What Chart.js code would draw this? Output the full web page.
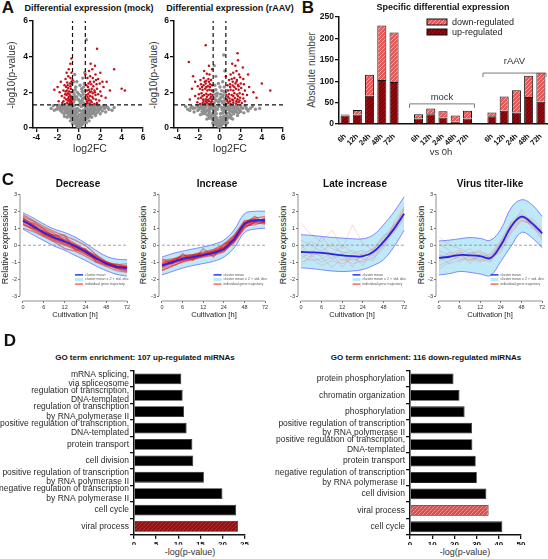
<!DOCTYPE html>
<html>
<head>
<meta charset="utf-8">
<script src="https://cdn.jsdelivr.net/npm/chart.js@4.4.0/dist/chart.umd.min.js"></script>
<style>
  body { margin: 0; width: 548px; height: 559px; position: relative; background: #fff; overflow: hidden; }
</style>
</head>
<body>
<script>
// ---------- data: panel A (volcano plots, [log2FC, -log10 p]) ----------
const fcCut = 0.6;
const pCut = 1.3;
const volcanoXTicks = [-4, -2, 0, 2, 4, 6];
const volcanoYTicks = [0, 2, 4, 6];

const mockGray = [[0,0.05],[0.1,0.1],[-0.1,0.08],[0.2,0.15],[-0.2,0.12],[0.3,0.2],[0.05,0.25],[-0.3,0.22],[0.4,0.3],[0.15,0.35],
  [-0.15,0.3],[0.5,0.35],[-0.4,0.35],[0.25,0.45],[-0.05,0.4],[0.6,0.45],[-0.55,0.45],[0.35,0.55],[-0.25,0.5],[0.75,0.55],
  [-0.7,0.55],[0.9,0.6],[-0.85,0.65],[0.5,0.65],[-0.45,0.62],[1.05,0.7],[-1.0,0.75],[0.65,0.75],[-0.6,0.78],[1.2,0.8],
  [-1.15,0.85],[0.8,0.85],[-0.3,0.8],[0.1,0.7],[1.4,0.9],[-1.3,0.95],[0.95,0.95],[-0.8,0.95],[1.6,1.0],[-1.5,1.05],
  [1.1,1.05],[-1.0,1.1],[0.4,1.0],[-0.5,1.0],[1.8,1.1],[-1.7,1.15],[1.3,1.15],[-1.25,1.2],[2.1,1.15],[-2.0,1.2],
  [1.5,1.25],[0.7,1.15],[-0.7,1.2],[2.4,1.1],[-2.3,1.0],[2.8,1.05],[3.1,1.0],[-2.6,1.1],[2.6,1.2],[1.9,1.25],
  [-1.85,1.28],[0.2,1.2],[-0.15,1.1],[0.55,0.9],[-0.35,0.95],[1.0,0.85],[-0.95,0.9],[1.35,1.0],[-1.4,0.8],[0.85,1.25],
  [-0.9,1.25],[1.7,0.85],[-1.6,0.9],[2.2,0.95],[-2.1,1.05],[1.2,0.6],[-1.1,0.6],[0.3,0.6],[-0.1,0.55],[2.0,0.8],
  [1.55,0.7],[-1.35,0.65],[2.5,0.9],[0.95,0.4],[-0.8,0.4],[0.7,0.3],[-0.6,0.25],
  [0.05,0.15],[-0.05,0.2],[0.15,0.22],[0.25,0.3],[-0.2,0.35],[0.0,0.35],[0.45,0.42],[-0.35,0.45],[0.1,0.48],[0.55,0.55],
  [-0.5,0.55],[0.2,0.58],[-0.15,0.62],[0.65,0.62],[0.4,0.68],[-0.3,0.68],[-0.6,0.68],[0.85,0.7],[0.0,0.75],[0.25,0.78],
  [-0.5,0.82],[-0.75,0.8],[0.5,0.82],[1.0,0.78],[-0.9,0.78],[0.7,0.9],[-0.15,0.9],[0.15,0.95],[1.15,0.9],[-1.1,0.95],
  [-0.6,0.92],[0.4,0.95],[0.9,1.05],[-0.7,1.05],[1.25,1.1],[-1.2,1.05],[0.6,1.1],[-0.3,1.05],[0.05,1.0],[1.5,1.1],
  [-1.45,1.15],[1.05,1.2],[-1.05,1.25],[0.35,1.25],[-0.45,1.25],[1.75,1.2],[-1.6,1.25],[2.3,1.25],[-2.4,1.25],[1.35,1.28],
  [0.6,1.28],[-0.6,1.1],[0.0,1.3],[1.65,1.3],[-1.3,1.1],[0.8,1.0],[-0.85,1.05],[2.0,1.05],[-1.9,1.1],[1.45,0.8],
  [-1.25,0.9],[0.3,0.8],[1.85,0.95],[-1.75,1.0],[2.7,1.15],[3.3,1.15],
  [0.45,1.4],[-0.5,1.45],[0.3,1.55],[-0.35,1.6],[0.5,1.7],[-0.2,1.75],[0.1,1.5],[0.4,1.9],[-0.45,1.9],[0.55,2.1],
  [-0.55,2.05],[0.25,2.2],[-0.3,2.3],[0.5,2.5],[-0.5,2.6],[0.35,2.8],[-0.4,3.0],[0.55,3.1],[0.45,2.3],[-0.15,2.0],
  [0.2,1.8],[-0.55,1.7],[0.7,4.95],[0.15,1.4],[-0.05,1.6],[0.35,1.65],[-0.4,1.75],[0.0,1.9],[0.3,2.05],[-0.35,2.15],
  [0.1,2.4],[-0.2,2.6]];

const mockRed = [[-0.65,1.35],[-0.75,1.4],[-0.9,1.38],[-1.1,1.42],[-1.3,1.35],[-0.7,1.55],[-0.85,1.6],[-1.0,1.55],[-1.2,1.6],[-1.45,1.5],
  [-0.65,1.75],[-0.8,1.8],[-0.95,1.75],[-1.15,1.85],[-1.35,1.7],[-0.7,2.0],[-0.9,2.05],[-1.05,1.95],[-1.25,2.05],[-1.6,1.8],
  [-0.75,2.2],[-1.0,2.25],[-1.2,2.3],[-1.45,2.1],[-0.65,2.45],[-0.85,2.5],[-1.1,2.55],[-1.35,2.4],[-1.8,2.0],[-0.8,2.8],
  [-1.0,2.9],[-1.25,2.75],[-0.7,3.1],[-0.95,3.3],[-1.15,3.1],[-0.8,3.6],[-0.7,3.9],[-1.7,2.6],[-2.0,2.3],[-2.3,2.15],
  [-1.55,1.4],[-1.9,1.5],[-0.6,1.6],[-0.6,2.7],[-0.7,1.45],[-0.85,1.5],[-1.0,1.65],[-0.75,1.7],[-0.9,1.9],[-1.1,2.1],
  [-0.8,2.35],[-1.3,1.9],[-0.7,2.6],[-1.05,2.4],
  [0.65,1.35],[0.8,1.4],[1.0,1.38],[1.2,1.45],[1.45,1.35],[1.7,1.4],[0.7,1.6],[0.9,1.65],[1.1,1.55],[1.35,1.65],
  [1.6,1.6],[1.9,1.55],[0.65,1.85],[0.85,1.9],[1.05,1.8],[1.3,1.95],[1.55,1.85],[1.8,1.9],[2.1,1.8],[0.75,2.1],
  [0.95,2.15],[1.2,2.2],[1.45,2.1],[1.7,2.2],[2.0,2.05],[0.7,2.4],[0.9,2.5],[1.15,2.45],[1.4,2.6],[1.65,2.45],
  [1.95,2.5],[2.3,2.3],[0.8,2.8],[1.05,2.9],[1.3,2.8],[1.55,3.0],[1.8,2.75],[0.95,3.2],[1.25,3.3],[1.5,3.5],
  [2.0,3.1],[1.7,4.45],[2.6,2.6],[3.3,3.3],[4.0,2.2],[4.3,2.1],[2.5,1.7],[2.9,2.1],[0.6,3.0],[1.1,3.6],
  [0.75,1.5],[0.95,1.55],[0.8,1.75],[1.0,2.0],[1.25,1.75],[1.15,2.05],[0.85,2.3],[1.35,2.35],[1.5,2.0],[1.05,2.6],
  [1.6,2.7],[2.2,2.6]];

const raavGray = [[0,0.05],[0.1,0.1],[-0.1,0.1],[0.2,0.18],[-0.25,0.15],[0.35,0.25],[-0.35,0.28],[0.05,0.3],[0.5,0.35],[-0.5,0.38],
  [0.25,0.42],[-0.2,0.45],[0.7,0.48],[-0.7,0.5],[0.45,0.55],[-0.45,0.58],[0.9,0.6],[-0.95,0.62],[0.1,0.6],[1.1,0.7],
  [-1.15,0.72],[0.65,0.72],[-0.7,0.75],[1.35,0.8],[-1.4,0.82],[0.9,0.85],[-0.95,0.88],[0.3,0.85],[-0.3,0.8],[1.6,0.9],
  [-1.65,0.92],[1.15,0.95],[-1.2,1.0],[0.55,1.0],[-0.55,1.02],[1.9,1.0],[-1.95,1.05],[1.4,1.08],[-1.5,1.12],[2.2,1.1],
  [-2.3,1.12],[1.7,1.15],[-1.75,1.18],[0.8,1.15],[-0.85,1.2],[2.5,1.15],[-2.6,1.2],[2.9,1.1],[-3.0,1.05],[3.4,1.05],
  [2.0,1.25],[-2.1,1.27],[1.2,1.25],[-1.25,1.28],[0.2,1.15],[-0.1,1.2],[0.75,0.3],[-0.65,0.28],[1.25,0.5],[-1.2,0.5],
  [1.7,0.7],[-1.8,0.75],[2.3,0.85],[-2.4,0.9],[2.7,0.95],[-2.8,0.98],[3.8,1.1],[0.4,1.1],[-0.4,1.15],[1.0,1.1],
  [-1.0,1.15],[1.5,1.2],[-1.55,1.0],
  [0.05,0.15],[-0.05,0.2],[0.15,0.25],[-0.15,0.28],[0.3,0.35],[-0.35,0.4],[0.0,0.42],[0.55,0.45],[-0.55,0.48],[0.2,0.52],
  [-0.25,0.58],[0.75,0.62],[-0.8,0.65],[0.4,0.68],[-0.45,0.7],[1.0,0.75],[-1.0,0.78],[0.1,0.8],[0.65,0.82],[-0.6,0.85],
  [1.25,0.88],[-1.3,0.9],[0.45,0.92],[-0.4,0.95],[0.95,0.98],[-1.05,1.0],[1.5,1.0],[-1.55,1.05],[0.25,1.02],[-0.2,1.05],
  [0.7,1.05],[-0.7,1.1],[1.25,1.12],[-1.35,1.15],[1.75,1.08],[-1.85,1.1],[2.05,1.15],[-2.0,1.2],[0.5,1.2],[-0.5,1.25],
  [1.0,1.25],[-1.0,1.28],[1.6,1.28],[-1.65,1.28],[2.4,1.25],[-2.5,1.1],[2.6,1.05],[-2.7,1.15],[3.1,1.2],[-3.2,1.2],
  [0.0,1.28],[0.85,1.2],[-0.9,1.05],[1.4,0.95],[-1.45,0.95],[2.0,0.92],[-2.05,0.98],[1.8,0.85],[-1.55,0.8],[1.1,0.55],
  [-1.0,0.55],[0.6,0.2],[-0.5,0.2],
  [0.45,1.4],[-0.5,1.42],[0.2,1.5],[-0.3,1.55],[0.5,1.65],[-0.5,1.7],[0.1,1.7],[0.35,1.85],[-0.4,1.9],[0.55,2.0],
  [-0.55,2.1],[0.2,2.1],[-0.2,1.95],[0.45,2.3],[-0.45,2.4],[0.3,2.6],[-0.35,2.9],[0.5,3.2],[-0.5,3.5],[0.4,4.1],
  [0.3,1.4],[-0.1,1.45],[0.5,1.55],[0.0,1.6],[-0.4,1.6],[0.3,1.75],[-0.25,1.8],[0.1,1.9],[0.4,2.05],[-0.35,2.15],
  [0.05,2.3],[-0.1,2.5]];

const raavRed = [[-0.65,1.35],[-0.8,1.4],[-1.0,1.35],[-1.2,1.42],[-1.4,1.38],[-1.6,1.4],[-1.85,1.35],[-2.1,1.45],[-0.7,1.6],[-0.9,1.65],
  [-1.1,1.58],[-1.3,1.62],[-1.55,1.6],[-1.75,1.7],[-2.0,1.65],[-0.65,1.85],[-0.85,1.9],[-1.05,1.85],[-1.25,1.92],[-1.45,1.85],
  [-1.7,1.95],[-1.95,1.9],[-2.3,1.8],[-0.75,2.1],[-0.95,2.15],[-1.15,2.1],[-1.35,2.2],[-1.6,2.15],[-1.85,2.2],[-0.7,2.4],
  [-0.9,2.45],[-1.1,2.35],[-1.3,2.5],[-1.5,2.4],[-1.75,2.45],[-2.05,2.35],[-0.8,2.7],[-1.05,2.75],[-1.25,2.65],[-1.5,2.8],
  [-1.8,2.7],[-0.95,3.0],[-1.2,3.05],[-1.45,3.2],[-2.5,2.9],[-2.9,3.7],[-1.3,4.65],[-0.7,3.3],[-2.6,2.2],[-2.8,1.6],
  [-2.3,2.6],[-1.0,3.5],[-0.75,1.5],[-1.0,1.5],[-1.25,1.5],[-1.5,1.52],[-0.8,1.75],[-1.2,1.75],[-1.6,1.8],[-0.9,2.3],
  [-1.25,2.3],[-1.65,2.3],[-1.0,2.6],[-1.4,2.6],
  [0.65,1.35],[0.85,1.4],[1.05,1.35],[1.3,1.42],[1.55,1.38],[1.8,1.45],[2.1,1.4],[2.4,1.5],[0.7,1.6],[0.95,1.65],
  [1.2,1.6],[1.45,1.68],[1.7,1.62],[1.95,1.7],[2.25,1.65],[0.65,1.85],[0.9,1.9],[1.15,1.85],[1.4,1.95],[1.65,1.88],
  [1.9,1.95],[2.2,1.9],[2.6,1.85],[0.8,2.1],[1.05,2.15],[1.3,2.1],[1.55,2.2],[1.8,2.15],[2.05,2.25],[2.4,2.1],
  [0.75,2.4],[1.0,2.45],[1.25,2.38],[1.5,2.5],[1.75,2.42],[2.0,2.5],[2.3,2.45],[0.9,2.7],[1.15,2.75],[1.4,2.8],
  [1.65,2.7],[1.95,2.85],[2.25,2.75],[1.05,3.0],[1.3,3.1],[1.6,3.2],[1.85,3.0],[1.5,3.5],[1.75,3.8],[1.7,4.2],
  [2.2,3.4],[2.8,2.3],[3.2,2.0],[3.5,1.7],[4.0,2.5],[4.8,2.1],[2.7,3.0],[0.6,2.9],[1.2,3.6],[0.75,1.5],
  [1.0,1.5],[1.3,1.55],[1.6,1.5],[1.9,1.55],[0.8,1.75],[1.3,1.8],[1.75,1.78],[1.0,2.3],[1.4,2.3],[1.8,2.35],
  [1.25,2.6],[1.6,2.6]];

// ---------- data: panel B ----------
const timeLabels = ['6h', '12h', '24h', '48h', '72h'];
const firstUp = [20, 22, 66, 103, 98];
const firstDown = [2, 11, 49, 127, 116];
const mockUp = [13, 23, 15, 5, 13];
const mockDown = [10, 13, 15, 15, 18];
const raavUp = [18, 31, 27, 63, 52];
const raavDown = [9, 33, 52, 50, 68];
const countTicks = [0, 50, 100, 150, 200, 250];

// ---------- data: panel C ----------
const hours = [0, 3, 6, 9, 12, 18, 24, 36, 48, 60, 72];
const hourTicks = [0, 6, 12, 24, 48, 72];
const exprTicks = [-3, -2, -1, 0, 1, 2, 3];

const decreaseMean = [1.45, 1.1, 0.75, 0.45, 0.22, -0.05, -0.38, -0.75, -1.08, -1.28, -1.35];
const decreaseUpper = [1.92, 1.6, 1.25, 0.95, 0.75, 0.48, 0.12, -0.3, -0.65, -0.82, -0.86];
const decreaseLower = [0.95, 0.6, 0.27, -0.05, -0.3, -0.6, -0.9, -1.22, -1.5, -1.72, -1.82];
const decreaseGenes = [
  [1.6, 1.2, 0.9, 0.5, 0.3, 0.0, -0.35, -0.7, -1.1, -1.3, -1.4],
  [1.3, 1.0, 0.6, 0.4, 0.1, -0.1, -0.45, -0.8, -1.0, -1.2, -1.25],
  [1.7, 1.4, 0.95, 0.55, 0.35, 0.05, -0.25, -0.65, -1.15, -1.35, -1.5],
  [1.2, 0.95, 0.7, 0.35, 0.15, -0.2, -0.5, -0.9, -1.2, -1.3, -1.2],
  [1.5, 1.05, 0.8, 0.6, 0.45, 0.1, -0.3, -0.6, -0.95, -1.25, -1.4],
  [1.4, 1.15, 0.65, 0.3, 0.05, -0.15, -0.4, -0.85, -1.1, -1.4, -1.55],
  [1.55, 1.3, 1.0, 0.7, 0.25, -0.05, -0.3, -0.7, -1.05, -1.2, -1.3],
  [1.25, 0.9, 0.55, 0.25, 0.0, -0.25, -0.55, -0.8, -1.0, -1.15, -1.1],
  [1.8, 1.45, 1.1, 0.8, 0.55, 0.3, 0.0, -0.55, -1.0, -1.35, -1.45],
  [1.0, 0.8, 0.5, 0.2, -0.2, -0.35, -0.65, -1.0, -1.25, -1.5, -1.6],
  [1.35, 1.25, 0.7, 0.6, 0.6, -0.3, -0.2, -0.95, -1.15, -1.1, -1.3],
  [1.45, 1.0, 0.85, 0.4, 0.2, 0.0, -0.4, -0.75, -1.1, -1.25, -1.35],
  [1.6, 1.15, 0.7, 0.45, 0.25, -0.1, -0.35, -0.8, -1.05, -1.3, -1.3]
];

const increaseMean = [-1.2, -1.0, -0.8, -0.7, -0.58, -0.45, -0.22, 0.35, 1.25, 1.45, 1.45];
const increaseUpper = [-0.7, -0.5, -0.35, -0.22, -0.1, 0.05, 0.3, 0.9, 1.85, 2.0, 2.0];
const increaseLower = [-1.75, -1.55, -1.35, -1.2, -1.08, -0.95, -0.7, -0.15, 0.75, 0.95, 1.0];
const increaseGenes = [
  [-1.1, -0.9, -0.75, -0.6, -0.5, -0.35, -0.1, 0.4, 1.2, 1.5, 1.5],
  [-1.35, -1.1, -0.9, -0.8, -0.65, -0.55, -0.3, 0.2, 1.1, 1.3, 1.35],
  [-1.0, -0.85, -0.6, -0.55, -0.45, -0.3, 0.0, 0.55, 1.4, 1.6, 1.7],
  [-1.45, -1.2, -1.0, -0.85, -0.7, -0.6, -0.4, 0.25, 1.05, 1.35, 1.25],
  [-1.2, -0.95, -0.85, -0.65, -0.5, -0.5, -0.2, 0.45, 1.3, 1.45, 1.55],
  [-0.9, -0.8, -0.7, -0.6, -0.55, -0.35, -0.15, 0.3, 1.15, 1.2, 1.4],
  [-1.3, -1.05, -0.75, -0.75, -0.6, -0.4, -0.25, 0.35, 1.35, 1.55, 1.3],
  [-1.15, -1.0, -0.9, -0.7, -0.55, -0.45, -0.1, 0.5, 1.2, 1.35, 1.6],
  [-1.5, -1.25, -0.95, -0.8, -0.65, -0.5, -0.35, 0.15, 1.0, 1.4, 1.5],
  [-1.05, -0.9, -0.65, -0.55, -0.4, -0.25, 0.05, 0.6, 1.45, 1.5, 1.4],
  [-0.8, -1.1, -0.5, -0.9, -0.2, -0.7, 0.1, 0.3, 1.25, 1.7, 1.3],
  [-1.25, -0.95, -0.8, -0.65, -0.6, -0.45, -0.2, 0.4, 1.25, 1.4, 1.45],
  [-1.15, -1.05, -0.85, -0.75, -0.55, -0.4, -0.25, 0.3, 1.3, 1.5, 1.5]
];

const lateMean = [-0.4, -0.42, -0.45, -0.52, -0.6, -0.64, -0.65, -0.4, 0.2, 0.95, 1.85];
const lateUpper = [0.62, 0.58, 0.52, 0.46, 0.42, 0.38, 0.38, 0.6, 1.2, 1.95, 2.85];
const lateLower = [-1.33, -1.38, -1.45, -1.52, -1.55, -1.52, -1.43, -1.2, -0.85, -0.1, 0.88];
const lateGenes = [
  [-0.5, -0.7, -0.3, -0.8, -0.6, -0.9, -0.7, -0.4, 0.2, 1.0, 2.1],
  [0.3, 0.0, -0.4, 0.1, -0.5, -0.3, -0.6, -0.2, 0.4, 1.1, 1.9],
  [-1.0, -0.8, -1.2, -0.9, -1.1, -0.8, -1.0, -0.7, -0.1, 0.8, 2.0],
  [1.3, 0.6, 0.2, 0.9, -0.2, 1.2, 0.1, -0.3, 0.5, 1.2, 1.6],
  [-0.3, -0.5, -0.6, -0.4, -0.9, -0.7, -0.5, -0.6, 0.0, 0.9, 2.2],
  [-0.8, -0.3, -0.7, -1.3, -0.8, -1.1, -0.9, -0.5, 0.3, 0.7, 1.7],
  [0.0, -0.6, 0.5, -0.2, -0.4, -0.5, -0.3, -0.8, -0.2, 1.3, 2.3],
  [-0.6, -0.9, -0.8, -0.5, -1.3, -0.6, -1.2, -0.2, 0.6, 0.8, 1.5],
  [-0.2, 0.2, -0.1, -0.6, 0.0, -0.4, -0.8, -0.9, 0.1, 1.2, 1.9],
  [-1.2, -0.6, -1.0, -0.7, -0.5, -1.3, -0.4, -0.3, 0.4, 1.0, 2.2]
];

const virusMean = [-0.75, -0.68, -0.58, -0.6, -0.65, -0.75, 0.0, 1.1, 1.68, 1.3, 0.7];
const virusUpper = [0.25, 0.3, 0.38, 0.45, 0.4, 0.3, 0.95, 2.2, 2.68, 2.4, 1.7];
const virusLower = [-1.75, -1.68, -1.55, -1.6, -1.7, -1.78, -0.95, -0.05, 0.75, 0.45, -0.15];
const virusGenes = [
  [-0.5, -0.8, -0.4, -0.7, -0.9, -0.6, 0.2, 1.2, 1.8, 1.4, 0.9],
  [-1.2, -0.9, -0.7, -0.4, -0.6, -0.9, -0.3, 0.9, 1.5, 1.2, 0.5],
  [0.1, -0.3, -0.8, -0.9, -0.5, -0.7, 0.1, 1.0, 2.1, 1.3, 0.8],
  [-1.0, -0.5, -0.3, -0.8, -1.0, -0.8, -0.2, 1.3, 1.6, 1.5, 0.6],
  [-0.7, -1.1, -0.9, -0.5, -0.4, -0.6, 0.0, 1.1, 1.7, 1.1, 0.9],
  [-0.3, -0.6, -0.5, -0.2, -0.8, -1.0, -0.1, 0.8, 1.4, 1.3, 0.4],
  [-1.4, -1.0, -0.6, -0.9, -0.7, -0.5, 0.3, 1.4, 1.9, 1.0, 0.7],
  [0.5, 0.0, -0.2, -0.5, -0.3, -0.8, 0.1, 1.0, 1.6, 1.6, 1.0],
  [-0.9, -0.4, -1.0, -0.6, -0.9, -0.7, -0.4, 0.7, 1.5, 1.2, 0.3],
  [-0.6, -0.7, -0.4, -1.1, -0.5, -0.9, 0.2, 1.3, 1.7, 1.4, 0.8]
];

// ---------- data: panel D ----------
const upTerms = [['mRNA splicing,', 'via spliceosome'], ['regulation of transcription,', 'DNA-templated'],
  ['regulation of transcription', 'by RNA polymerase II'], ['positive regulation of transcription,', 'DNA-templated'],
  'protein transport', 'cell division', ['positive regulation of transcription', 'by RNA polymerase II'],
  ['negative regulation of transcription', 'by RNA polymerase II'], 'cell cycle', 'viral process'];
const upScores = [10.7, 11.0, 11.3, 11.9, 13.2, 13.4, 15.8, 20.0, 23.1, 23.5];
const downTerms = ['protein phosphorylation', 'chromatin organization', 'phosphorylation',
  ['positive regulation of transcription', 'by RNA polymerase II'], ['positive regulation of transcription,', 'DNA-templated'],
  'protein transport', ['negative regulation of transcription', 'by RNA polymerase II'], 'cell division',
  'viral process', 'cell cycle'];
const downScores = [19.6, 22.3, 24.6, 27.9, 28.1, 29.6, 30.1, 34.4, 35.4, 41.6];

// ---------- helpers ----------
const FONT = '"Liberation Sans", Arial, Helvetica, sans-serif';
Chart.defaults.font.family = FONT;
Chart.defaults.color = '#111';
Chart.defaults.animation = false;

function mount(box) {
  const c = document.createElement('canvas');
  c.width = box[2];
  c.height = box[3];
  c.style.cssText = 'position:absolute;left:' + box[0] + 'px;top:' + box[1] + 'px;width:' + box[2] + 'px;height:' + box[3] + 'px';
  document.body.appendChild(c);
  return c;
}

// box = [left, top, width, height], area = [left, top, right, bottom] (page px)
function fit(box, area) {
  return {
    padding: { left: 0, top: area[1] - box[1], right: box[0] + box[2] - area[2], bottom: 0 },
    yw: area[0] - box[0],
    xh: box[1] + box[3] - area[3]
  };
}

function addText(txt, x, y, font, color, rot) {
  const d = document.createElement('div');
  d.textContent = txt;
  d.style.cssText = 'position:absolute;left:' + x + 'px;top:' + y + 'px;font:' + font + ';white-space:nowrap;line-height:1;color:' +
    (color || '#111') + ';transform:translate(-50%,-50%)' + (rot ? ' rotate(-90deg)' : '');
  document.body.appendChild(d);
}

function hatch(bg, fg) {
  const c = document.createElement('canvas');
  c.width = 4; c.height = 4;
  const g = c.getContext('2d');
  g.fillStyle = bg;
  g.fillRect(0, 0, 4, 4);
  g.strokeStyle = fg;
  g.lineWidth = 1;
  g.beginPath();
  g.moveTo(-1, 5); g.lineTo(5, -1);
  g.moveTo(-1, 1); g.lineTo(1, -1);
  g.moveTo(3, 5); g.lineTo(5, 3);
  g.stroke();
  return g.createPattern(c, 'repeat');
}

const darkHatch = hatch('#8a0c10', '#5e0407');
const lightHatch = hatch('#e25a5a', '#f4a5a5');
const goDarkHatch = hatch('#8c1414', '#b03030');
const goLightHatch = hatch('#d65252', '#eb8f8f');

function blackAxis(f, isX, extra) {
  return Object.assign({
    afterFit: isX ? (s => { s.height = f.xh; }) : (s => { s.width = f.yw; }),
    border: { display: true, color: '#111', width: 1.5 },
    grid: { display: true, drawOnChartArea: false, drawTicks: true, tickLength: 4, color: '#111', lineWidth: 1.3 },
    ticks: { font: { size: 8.5, weight: 'bold' }, color: '#111', padding: 1 }
  }, extra);
}

// ---------- panel A ----------
function volcano(box, area, gray, red) {
  const f = fit(box, area);
  const dash = { type: 'line', borderColor: '#111', borderWidth: 1.2, borderDash: [4, 3], pointRadius: 0, order: 0 };
  new Chart(mount(box), {
    type: 'scatter',
    data: {
      datasets: [
        Object.assign({ data: [{ x: -4.3, y: pCut }, { x: 6, y: pCut }] }, dash),
        Object.assign({ data: [{ x: -fcCut, y: 0 }, { x: -fcCut, y: 6 }] }, dash),
        Object.assign({ data: [{ x: fcCut, y: 0 }, { x: fcCut, y: 6 }] }, dash),
        { data: red.map(p => ({ x: p[0], y: p[1] })), backgroundColor: '#c1121c', pointRadius: 1.25, pointBorderWidth: 0, order: 1 },
        { data: gray.map(p => ({ x: p[0], y: p[1] })), backgroundColor: '#8f8f8f', pointRadius: 1.7, pointBorderWidth: 0, order: 2 }
      ]
    },
    options: {
      responsive: false,
      layout: { padding: f.padding, autoPadding: false },
      plugins: { legend: { display: false }, tooltip: { enabled: false } },
      scales: {
        x: blackAxis(f, true, { type: 'linear', min: -4.3, max: 6,
          afterBuildTicks: s => { s.ticks = volcanoXTicks.map(v => ({ value: v })); } }),
        y: blackAxis(f, false, { min: 0, max: 6,
          afterBuildTicks: s => { s.ticks = volcanoYTicks.map(v => ({ value: v })); } })
      }
    }
  });
}

volcano([20, 15, 128, 132], [33, 21, 143, 128], mockGray, mockRed);
volcano([161, 15, 130, 132], [174, 21, 283, 128], raavGray, raavRed);

// ---------- panel B ----------
const bLabels = timeLabels.concat([''], timeLabels, [''], timeLabels);
const bUp = firstUp.concat([null], mockUp, [null], raavUp);
const bDown = firstDown.concat([null], mockDown, [null], raavDown);
const brackets = [
  { label: 'mock', from: 6, to: 10, level: 47, textLevel: 63 },
  { label: 'rAAV', from: 12, to: 16, level: 119, textLevel: 147 }
];

const bPlugin = {
  id: 'bExtras',
  afterDraw(chart) {
    const ctx = chart.ctx, xs = chart.scales.x, ys = chart.scales.y;
    ctx.save();
    ctx.strokeStyle = '#7a7a7a';
    ctx.lineWidth = 1;
    ctx.fillStyle = '#333';
    ctx.font = '9.5px ' + FONT;
    ctx.textAlign = 'center';
    ctx.textBaseline = 'middle';
    brackets.forEach(b => {
      const x0 = xs.getPixelForValue(b.from) - 9;
      const x1 = Math.min(xs.getPixelForValue(b.to) + 7, chart.width - 2);
      const y = ys.getPixelForValue(b.level);
      ctx.beginPath();
      ctx.moveTo(x0, y + 4); ctx.lineTo(x0, y); ctx.lineTo(x1, y); ctx.lineTo(x1, y + 4);
      ctx.stroke();
      ctx.fillText(b.label, (x0 + x1) / 2, ys.getPixelForValue(b.textLevel));
    });
    // legend
    const items = [['down-regulated', lightHatch], ['up-regulated', darkHatch]];
    ctx.textAlign = 'left';
    ctx.font = '9px ' + FONT;
    items.forEach((it, i) => {
      const y = 9 + i * 10;
      ctx.fillStyle = it[1];
      ctx.fillRect(109, y, 20, 6);
      ctx.strokeStyle = '#111';
      ctx.strokeRect(109, y, 20, 6);
      ctx.fillStyle = '#222';
      ctx.fillText(it[0], 134, y + 3.5);
    });
    ctx.restore();
  }
};

(function () {
  const box = [318, 10, 230, 145], area = [339, 17, 547, 124];
  const f = fit(box, area);
  new Chart(mount(box), {
    type: 'bar',
    data: {
      labels: bLabels,
      datasets: [
        { label: 'up-regulated', data: bUp, backgroundColor: darkHatch, borderColor: '#151515', borderWidth: 1, barPercentage: 0.74, categoryPercentage: 1 },
        { label: 'down-regulated', data: bDown, backgroundColor: lightHatch, borderColor: '#151515', borderWidth: 1, barPercentage: 0.74, categoryPercentage: 1 }
      ]
    },
    options: {
      responsive: false,
      layout: { padding: f.padding, autoPadding: false },
      plugins: { legend: { display: false }, tooltip: { enabled: false } },
      scales: {
        x: blackAxis(f, true, { stacked: true,
          grid: { display: false },
          ticks: { font: { size: 7.5, weight: 'bold' }, color: '#111', padding: 0, minRotation: 45, maxRotation: 45, autoSkip: false } }),
        y: blackAxis(f, false, { stacked: true, min: 0, max: 250,
          afterBuildTicks: s => { s.ticks = countTicks.map(v => ({ value: v })); } })
      }
    },
    plugins: [bPlugin]
  });
})();

// ---------- panel C ----------
function hourPos(h) {
  for (let i = 1; i < hourTicks.length; i++) {
    if (h <= hourTicks[i]) return i - 1 + (h - hourTicks[i - 1]) / (hourTicks[i] - hourTicks[i - 1]);
  }
  return hourTicks.length - 1;
}

const clusterLegendItems = [
  ['cluster mean', 'line', '#2424e8'],
  ['cluster mean \u00b1 2 \u00d7 std. dev.', 'box', '#bde9f8'],
  ['individual gene trajectory', 'line', '#ff5a5a']
];

const clusterPlugin = {
  id: 'clusterExtras',
  afterDraw(chart) {
    const ctx = chart.ctx, xs = chart.scales.x, ys = chart.scales.y, a = chart.chartArea;
    ctx.save();
    ctx.strokeStyle = '#777';
    ctx.lineWidth = 0.8;
    ctx.beginPath();
    ctx.moveTo(xs.getPixelForValue(0), a.bottom); ctx.lineTo(xs.getPixelForValue(5), a.bottom);
    ctx.moveTo(a.left, ys.getPixelForValue(3)); ctx.lineTo(a.left, ys.getPixelForValue(-3));
    ctx.stroke();
    const x0 = xs.getPixelForValue(2.5), y0 = ys.getPixelForValue(-1.75);
    ctx.font = '3.6px ' + FONT;
    ctx.textBaseline = 'middle';
    clusterLegendItems.forEach((it, i) => {
      const y = y0 + i * 4.6;
      if (it[1] === 'line') {
        ctx.strokeStyle = it[2];
        ctx.lineWidth = 1.4;
        ctx.beginPath(); ctx.moveTo(x0, y); ctx.lineTo(x0 + 8, y); ctx.stroke();
      } else {
        ctx.fillStyle = it[2];
        ctx.fillRect(x0, y - 1.5, 8, 3);
      }
      ctx.fillStyle = '#555';
      ctx.fillText(it[0], x0 + 10, y);
    });
    ctx.restore();
  }
};

function clusterChart(area, mean, upper, lower, genes, geneColor, geneWidth) {
  const box = [area[0] - 10, 188, area[2] - area[0] + 13, 127];
  const f = fit(box, area);
  const pts = v => v.map((y, i) => ({ x: hourPos(hours[i]), y: y }));
  const datasets = [
    { data: pts(mean), borderColor: '#2424e8', borderWidth: 1.8, tension: 0.4, order: 0 },
    { data: [{ x: 0, y: 0 }, { x: 5, y: 0 }], borderColor: '#8a8a8a', borderWidth: 0.8, borderDash: [3, 2], order: 1 }
  ].concat(genes.map(g => ({ data: pts(g), borderColor: geneColor, borderWidth: geneWidth, order: 2 })), [
    { data: pts(upper), borderColor: '#6a6aff', borderWidth: 0.8, tension: 0.4, fill: '+1', backgroundColor: '#bde9f8', order: 4 },
    { data: pts(lower), borderColor: '#6a6aff', borderWidth: 0.8, tension: 0.4, order: 3 }
  ]);
  const axisTicks = { font: { size: 5.5 }, color: '#333', padding: 1 };
  new Chart(mount(box), {
    type: 'line',
    data: { datasets: datasets },
    options: {
      responsive: false,
      layout: { padding: f.padding, autoPadding: false },
      elements: { point: { radius: 0 } },
      plugins: { legend: { display: false }, tooltip: { enabled: false } },
      scales: {
        x: {
          type: 'linear', min: -0.144, max: 5.14,
          afterFit: s => { s.height = f.xh; },
          afterBuildTicks: s => { s.ticks = hourTicks.map((h, i) => ({ value: i })); },
          border: { display: false },
          grid: { drawOnChartArea: false, tickLength: 2, color: '#777' },
          ticks: Object.assign({ callback: v => String(hourTicks[v]) }, axisTicks)
        },
        y: {
          min: -3.29, max: 3.12,
          afterFit: s => { s.width = f.yw; },
          afterBuildTicks: s => { s.ticks = exprTicks.map(v => ({ value: v })); },
          border: { display: false },
          grid: { drawOnChartArea: false, tickLength: 2, color: '#777' },
          ticks: axisTicks
        }
      }
    },
    plugins: [clusterPlugin]
  });
}

clusterChart([20, 191, 130, 301], decreaseMean, decreaseUpper, decreaseLower, decreaseGenes, 'rgba(235,0,0,0.45)', 1.3);
clusterChart([159, 191, 268, 301], increaseMean, increaseUpper, increaseLower, increaseGenes, 'rgba(235,0,0,0.45)', 1.3);
clusterChart([298, 191, 407, 301], lateMean, lateUpper, lateLower, lateGenes, 'rgba(245,70,70,0.3)', 0.7);
clusterChart([436, 191, 545, 301], virusMean, virusUpper, virusLower, virusGenes, 'rgba(245,70,70,0.3)', 0.7);

// ---------- panel D ----------
function goChart(box, area, terms, scores, hiIndex, hiFill, xMax, step) {
  const f = fit(box, area);
  const xTicks = [];
  for (let v = 0; v <= xMax; v += step) xTicks.push(v);
  new Chart(mount(box), {
    type: 'bar',
    data: {
      labels: terms,
      datasets: [{
        data: scores,
        backgroundColor: scores.map((_, i) => i === hiIndex ? hiFill : '#000'),
        borderColor: '#222', borderWidth: 0.8,
        barPercentage: 0.66, categoryPercentage: 1
      }]
    },
    options: {
      indexAxis: 'y',
      responsive: false,
      layout: { padding: f.padding, autoPadding: false },
      plugins: { legend: { display: false }, tooltip: { enabled: false } },
      scales: {
        x: blackAxis(f, true, { min: 0, max: xMax,
          afterBuildTicks: s => { s.ticks = xTicks.map(v => ({ value: v })); },
          ticks: { font: { size: 8, weight: 'bold' }, color: '#111', padding: 1 } }),
        y: blackAxis(f, false, {
          ticks: { font: { size: 8.5, lineHeight: 1.1 }, color: '#2a2a2a', padding: 1, autoSkip: false } })
      }
    }
  });
}

goChart([0, 365, 250, 180], [134, 370, 245, 535], upTerms, upScores, 9, goDarkHatch, 25, 5);
goChart([272, 365, 276, 180], [410, 370, 521, 535], downTerms, downScores, 8, goLightHatch, 50, 10);

// ---------- text ----------
const B = 'bold ';
addText('A', 8, 7, B + '17px ' + FONT);
addText('B', 308, 7, B + '17px ' + FONT);
addText('C', 8, 179, B + '17px ' + FONT);
addText('D', 10, 340, B + '17px ' + FONT);

addText('Differential expression (mock)', 89, 8, B + '9px ' + FONT);
addText('Differential expression (rAAV)', 230, 8, B + '9px ' + FONT);
addText('-log10(p-value)', 12, 75, '10px ' + FONT, '#333', true);
addText('-log10(p-value)', 154, 75, '10px ' + FONT, '#333', true);
addText('log2FC', 90, 148, '10.5px ' + FONT, '#333');
addText('log2FC', 230, 148, '10.5px ' + FONT, '#333');

addText('Specific differential expression', 443, 7, B + '9px ' + FONT);
addText('Absolute number', 312, 70, '10px ' + FONT, '#444', true);
addText('vs 0h', 441, 152, '9.5px ' + FONT, '#333');

addText('Decrease', 78, 184, B + '10px ' + FONT);
addText('Increase', 217, 184, B + '10px ' + FONT);
addText('Late increase', 355, 184, B + '10px ' + FONT);
addText('Virus titer-like', 490, 184, B + '10px ' + FONT);
[5, 143, 283, 421].forEach(x => addText('Relative expression', x, 245, '9px ' + FONT, '#222', true));
[75, 214, 352, 490].forEach(x => addText('Cultivation [h]', x, 315, '7.5px ' + FONT, '#222'));

addText('GO term enrichment: 107 up-regulated miRNAs', 145, 358, B + '8px ' + FONT);
addText('GO term enrichment: 116 down-regulated miRNAs', 426, 358, B + '8px ' + FONT);
addText('-log(p-value)', 190, 552, '9px ' + FONT, '#333');
addText('-log(p-value)', 465, 552, '9px ' + FONT, '#333');
</script>
</body>
</html>
